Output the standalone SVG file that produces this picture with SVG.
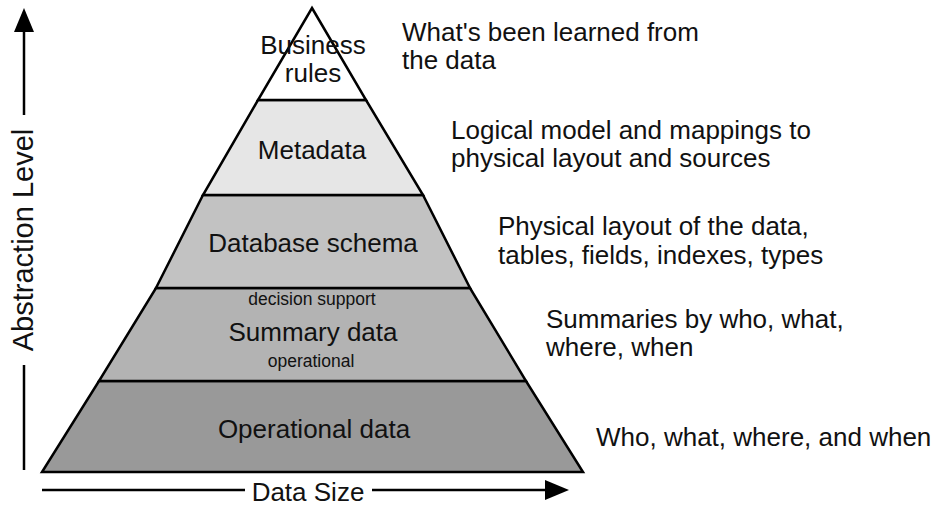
<svg xmlns="http://www.w3.org/2000/svg" width="937" height="506" viewBox="0 0 937 506">
<style>
.lay{stroke:#000;stroke-width:2.5;stroke-linejoin:miter}
.t{font-family:"Liberation Sans",Arial,Helvetica,sans-serif;font-size:26px;fill:#111}
.c{text-anchor:middle}
.s{font-size:17.5px}
.ax{stroke:#000;stroke-width:2.5;fill:none}
</style>
<rect width="937" height="506" fill="#fff"/>
<g id="operational">
<polygon class="lay" fill="#999999" points="99,381 526,381 583,472 42,472"/>
<text class="t c" x="314" y="438">Operational data</text>
</g>
<g id="summary">
<polygon class="lay" fill="#b3b3b3" points="156,288 470,288 526,381 99,381"/>
<text class="t c s" x="312" y="305">decision support</text>
<text class="t c" x="313" y="341">Summary data</text>
<text class="t c s" x="311" y="367">operational</text>
</g>
<g id="schema">
<polygon class="lay" fill="#c2c2c2" points="203,195 423,195 470,288 156,288"/>
<text class="t c" x="313" y="252">Database schema</text>
</g>
<g id="metadata">
<polygon class="lay" fill="#e6e6e6" points="258,100 366,100 423,195 203,195"/>
<text class="t c" x="312" y="159">Metadata</text>
</g>
<g id="rules">
<polygon class="lay" fill="#ffffff" points="312,8 366,100 258,100"/>
<text class="t c" x="313" y="54">Business</text>
<text class="t c" x="313" y="82">rules</text>
</g>
<g id="descriptions">
<text class="t" x="402" y="41">What's been learned from</text>
<text class="t" x="402" y="69">the data</text>
<text class="t" x="451" y="139">Logical model and mappings to</text>
<text class="t" x="451" y="167">physical layout and sources</text>
<text class="t" x="498" y="235">Physical layout of the data,</text>
<text class="t" x="498" y="264">tables, fields, indexes, types</text>
<text class="t" x="546" y="328">Summaries by who, what,</text>
<text class="t" x="546" y="356">where, when</text>
<text class="t" x="596" y="446">Who, what, where, and when</text>
</g>
<g id="connectors">
<line class="ax" x1="24" y1="470" x2="24" y2="365"/>
<path d="M24,115 L24,30" class="ax"/>
<path d="M14,32 L24,8 L34,32 z" fill="#000"/>
<line class="ax" x1="42" y1="490" x2="245" y2="490"/>
<line class="ax" x1="372" y1="490" x2="548" y2="490"/>
<path d="M545,480 L569,490 L545,500 z" fill="#000"/>
</g>
<g id="axis-labels">
<text class="t c" style="font-size:29px" transform="translate(33,240) rotate(-90)">Abstraction Level</text>
<text class="t c" x="308" y="501">Data Size</text>
</g>
</svg>
